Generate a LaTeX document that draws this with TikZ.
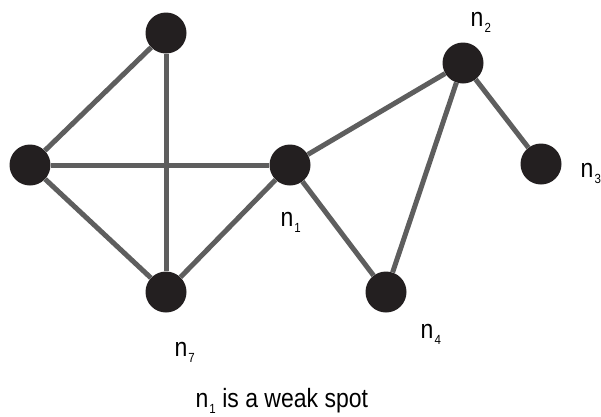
\documentclass[tikz,border=0pt]{standalone}
\usepackage{fontspec}
\setmainfont{Liberation Sans}
\usetikzlibrary{positioning}
\definecolor{dotblack}{HTML}{231F20}
\definecolor{edgegray}{HTML}{5E5E5E}
% label text is a little taller than wide in the picture
\newcommand{\nlbl}[1]{\scalebox{1}[1.15]{n\hspace{1pt}\raisebox{-6pt}{\fontsize{11.5}{12}\selectfont #1}}}

\begin{document}
\begin{tikzpicture}[x=1pt,y=-1pt,
  vtx/.style={circle,fill=dotblack,minimum size=41pt,inner sep=0pt},
  lbl/.style={anchor=base west,inner sep=0pt,font=\fontsize{23}{26}\selectfont},
  edge/.style={draw=edgegray,line width=5pt}]
\useasboundingbox (0,0) rectangle (601,416);
\node[vtx] (vt) at (166,33) {};
\node[vtx] (vl) at (30,165) {};
\node[vtx] (v7) at (166,292) {};
\node[vtx] (v1) at (290,165) {};
\node[vtx] (v2) at (463,63) {};
\node[vtx] (v3) at (541,164) {};
\node[vtx] (v4) at (386,292) {};
\node[lbl] (l2) at (470.5,26) {\nlbl{2}};
\node[lbl] (l3) at (580.5,177) {\nlbl{3}};
\node[lbl] (l1) at (280.5,226) {\nlbl{1}};
\node[lbl] (l4) at (420.5,338) {\nlbl{4}};
\node[lbl] (l7) at (174.5,356) {\nlbl{7}};
\node[lbl] (cap) at (195.5,407) {\nlbl{1}\scalebox{1}[1.15]{ is a weak spot}};
\foreach \a/\b in {vt/vl,vt/v7,vl/v1,vl/v7,v7/v1,v1/v2,v1/v4,v2/v4,v2/v3}
  {\draw[edge] (\a) -- (\b);}
\end{tikzpicture}
\end{document}
